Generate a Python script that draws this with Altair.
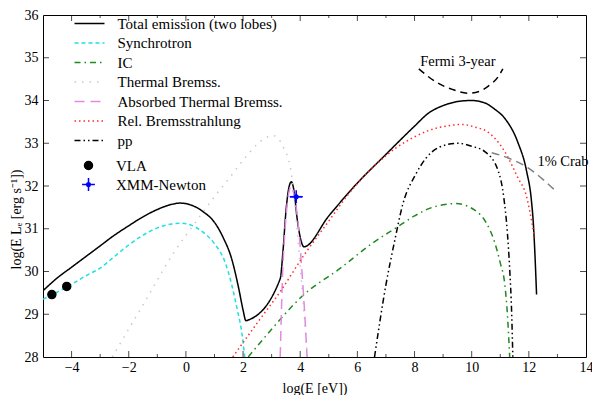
import altair as alt
import pandas as pd

SERIF = "Liberation Serif"

# ---------------- data ----------------
series_names = ["Total emission (two lobes)", "Synchrotron", "IC", "Thermal Bremss.",
                "Absorbed Thermal Bremss.", "Rel. Bremsstrahlung", "pp"]
series_colors = ["#000000", "#1fe0e0", "#1f8a1f", "#c8c8c8", "#e08ae0", "#ff2a2a", "#000000"]
series_dashes = [[1, 0], [4, 3], [6, 4, 1.5, 4], [1.5, 6], [10, 6], [1.5, 3],
                 [6, 3, 1.5, 3, 1.5, 3]]

total_x = [-5.0, -4.5, -4.0, -3.5, -3.0, -2.5, -2.0, -1.5, -1.0, -0.5, -0.2, 0.2, 0.6, 1.0,
           1.3, 1.6, 1.85, 2.0, 2.1, 2.2, 3.3, 3.4, 3.5, 3.6, 3.69, 3.78, 3.9, 4.0, 4.13,
           5.0, 6.0, 7.0, 7.6, 8.0, 8.5, 9.0, 9.67, 10.0, 10.47, 10.8, 11.16, 11.61,
           11.92, 12.09, 12.16, 12.22, 12.27]
total_y = [29.55, 29.85, 30.1, 30.35, 30.6, 30.85, 31.07, 31.28, 31.45, 31.57, 31.6, 31.55,
           31.4, 31.15, 30.8, 30.3, 29.6, 29.1, 28.85, 28.87, 29.83, 30.5, 31.4, 31.95, 32.1,
           31.9, 31.2, 30.8, 30.58, 31.3, 32.07, 32.74, 33.14, 33.4, 33.71, 33.88, 33.99,
           34.0, 33.94, 33.8, 33.58, 33.03, 32.35, 31.66, 31.1, 30.3, 29.46]

sync_x = [-5.0, -4.5, -4.0, -3.5, -3.0, -2.5, -2.0, -1.5, -1.0, -0.5, -0.2, 0.2, 0.6, 1.0,
          1.37, 1.6, 1.8, 1.95, 2.06]
sync_y = [29.35, 29.52, 29.7, 29.9, 30.08, 30.35, 30.62, 30.85, 31.02, 31.11, 31.13, 31.08,
          30.92, 30.65, 30.22, 29.7, 29.1, 28.6, 28.0]

ic_x = [2.18, 3.0, 3.65, 4.0, 5.45, 6.5, 7.35, 8.0, 8.5, 9.0, 9.43, 10.12, 10.5, 10.81,
        11.0, 11.16, 11.25, 11.33]
ic_y = [28.0, 28.65, 29.14, 29.38, 30.1, 30.65, 31.02, 31.3, 31.47, 31.56, 31.59, 31.43,
        31.15, 30.67, 30.2, 29.69, 29.0, 28.0]

therm_x = [-2.58, -1.5, -0.5, 0.5, 1.0, 1.5, 2.0, 2.5, 2.8, 3.05, 3.3, 3.45, 3.6, 3.72,
           3.85, 4.0, 4.15, 4.25]
therm_y = [28.0, 29.22, 30.36, 31.3, 31.75, 32.17, 32.6, 32.98, 33.13, 33.18, 33.05, 32.85,
           32.6, 32.16, 31.3, 30.1, 28.9, 28.0]

abs_x = [3.3, 3.34, 3.38, 3.45, 3.55, 3.62, 3.69, 3.78, 3.9, 3.96, 4.05, 4.15, 4.24]
abs_y = [28.0, 29.0, 29.9, 30.8, 31.6, 31.9, 32.0, 31.8, 31.3, 30.9, 30.1, 29.1, 28.0]

rel_x = [1.64, 2.5, 3.3, 4.13, 5.0, 5.62, 6.2, 6.76, 7.35, 8.0, 8.5, 9.1, 9.67, 10.1,
         10.57, 11.16, 11.61, 11.92, 12.05, 12.2]
rel_y = [28.0, 28.8, 29.53, 30.38, 31.18, 31.75, 32.2, 32.57, 32.89, 33.15, 33.3, 33.4,
         33.44, 33.38, 33.26, 32.8, 32.2, 31.75, 31.35, 30.8]

pp_x = [6.6, 7.0, 7.3, 7.6, 8.04, 8.4, 8.84, 9.5, 10.0, 10.47, 10.93, 11.12, 11.25, 11.33,
        11.4, 11.44]
pp_y = [28.0, 29.69, 30.7, 31.6, 32.27, 32.65, 32.9, 33.0, 32.93, 32.8, 32.35, 31.75, 30.9,
        30.06, 29.0, 28.0]

fermi_x = [8.15, 8.5, 8.84, 9.32, 9.88, 10.3, 10.57, 10.93, 11.09]
fermi_y = [34.74, 34.55, 34.4, 34.26, 34.17, 34.22, 34.33, 34.56, 34.74]

crab_x = [10.7, 11.3, 11.96, 12.5, 12.96]
crab_y = [32.78, 32.65, 32.43, 32.15, 31.87]

obs_names = ["VLA", "XMM-Newton"]
vla_x = [-4.69, -4.17]
vla_y = [29.46, 29.65]
xmm_x = [3.86]
xmm_y = [31.75]
xmm_xerr = [0.22]
xmm_yerr = [0.07]

annot_text = ["Fermi 3-year", "1% Crab"]
annot_x = [8.2, 12.3]
annot_y = [34.9, 32.55]

x_labels = [-4, -2, 0, 2, 4, 6, 8, 10, 12, 14]
y_labels = [28, 29, 30, 31, 32, 33, 34, 35, 36]
x_ticks = list(range(-4, 14))
y_ticks = list(range(29, 36))

# ---------------- tables ----------------
curve_sets = [(total_x, total_y), (sync_x, sync_y), (ic_x, ic_y), (therm_x, therm_y),
              (abs_x, abs_y), (rel_x, rel_y), (pp_x, pp_y)]
rows = []
for name, (xs, ys) in zip(series_names, curve_sets):
    for i, (a, b) in enumerate(zip(xs, ys)):
        rows.append({"series": name, "x": a, "y": b, "i": i})
curves = pd.DataFrame(rows)

fermi = pd.DataFrame({"x": fermi_x, "y": fermi_y, "i": range(len(fermi_x))})
crab = pd.DataFrame({"x": crab_x, "y": crab_y, "i": range(len(crab_x))})
obs = pd.DataFrame({
    "obs": ["VLA"] * len(vla_x) + ["XMM-Newton"] * len(xmm_x),
    "x": vla_x + xmm_x,
    "y": vla_y + xmm_y,
})
xmm = pd.DataFrame({
    "x": xmm_x, "y": xmm_y,
    "xlo": [a - e for a, e in zip(xmm_x, xmm_xerr)],
    "xhi": [a + e for a, e in zip(xmm_x, xmm_xerr)],
    "ylo": [a - e for a, e in zip(xmm_y, xmm_yerr)],
    "yhi": [a + e for a, e in zip(xmm_y, xmm_yerr)],
})
annot = pd.DataFrame({"text": annot_text, "x": annot_x, "y": annot_y})
xt = pd.DataFrame({"v": x_ticks, "major": [v % 2 == 0 for v in x_ticks]})
yt = pd.DataFrame({"v": y_ticks})

# ---------------- layout ----------------
W, H = 543, 342
xscale = alt.Scale(domain=[-5, 14], nice=False, zero=False)
yscale = alt.Scale(domain=[28, 36], nice=False, zero=False)
XTITLE = "log(E [eV])"
YTITLE = "log(E L\u2091 [erg s\u207b\u00b9])"

xaxis = alt.Axis(values=x_labels, grid=False, ticks=False, tickSize=0, domain=False,
                 labelPadding=3, labelFlush=False, titlePadding=7)
yaxis = alt.Axis(values=y_labels, grid=False, ticks=False, tickSize=0, domain=False,
                 labelPadding=5, labelFlush=False, titlePadding=1, titleY=204)


def X(field="x"):
    return alt.X(f"{field}:Q", scale=xscale, axis=xaxis, title=XTITLE)


def Y(field="y"):
    return alt.Y(f"{field}:Q", scale=yscale, axis=yaxis, title=YTITLE)


line_path = "M-3,0H3"
leg1 = alt.Legend(orient="none", legendX=39, legendY=1, symbolType=line_path,
                  symbolSize=100, symbolStrokeWidth=1.5, labelOffset=20.5, rowPadding=3.5,
                  padding=0, title=None, labelLimit=400)

xmm_path = ("M-1.6,0H1.6M0,-1.6V1.6M-0.45,0A0.45,0.45 0 1,0 0.45,0"
            "A0.45,0.45 0 1,0 -0.45,0Z")
leg2 = alt.Legend(orient="none", legendX=38, legendY=143, symbolSize=64,
                  symbolStrokeWidth=1.5, labelOffset=20, rowPadding=1, padding=0,
                  title=None, labelLimit=400)

lines = alt.Chart(curves).mark_line(strokeWidth=1.5, interpolate="monotone", clip=True).encode(
    x=X(), y=Y(),
    color=alt.Color("series:N", scale=alt.Scale(domain=series_names, range=series_colors),
                    legend=leg1),
    strokeDash=alt.StrokeDash("series:N",
                              scale=alt.Scale(domain=series_names, range=series_dashes),
                              legend=leg1),
    order="i:Q",
)

fermi_line = alt.Chart(fermi).mark_line(strokeWidth=1.5, color="black", strokeDash=[7, 5],
                                        interpolate="monotone").encode(
    x=X(), y=Y(), order="i:Q")
crab_line = alt.Chart(crab).mark_line(strokeWidth=1.5, color="#808080", strokeDash=[8, 5],
                                      interpolate="monotone").encode(
    x=X(), y=Y(), order="i:Q")

labels = alt.Chart(annot).mark_text(align="left", baseline="middle", font=SERIF,
                                    fontSize=14.5, color="black").encode(
    x=X(), y=Y(), text="text:N")

err_x = alt.Chart(xmm).mark_rule(color="blue", strokeWidth=1.5).encode(
    x=X("xlo"), x2="xhi:Q", y=Y())
err_y = alt.Chart(xmm).mark_rule(color="blue", strokeWidth=1.5).encode(
    x=X(), y=Y("ylo"), y2="yhi:Q")

pts = alt.Chart(obs).mark_point(filled=True, size=64, strokeWidth=1.5, opacity=1).encode(
    x=X(), y=Y(),
    fill=alt.Fill("obs:N", scale=alt.Scale(domain=obs_names, range=["black", "blue"]),
                  legend=leg2),
    stroke=alt.Stroke("obs:N", scale=alt.Scale(domain=obs_names, range=["black", "blue"]),
                      legend=leg2),
    shape=alt.Shape("obs:N", scale=alt.Scale(domain=obs_names, range=["circle", xmm_path]),
                    legend=leg2),
)


# inward ticks on all four sides
def xticks(major, top):
    L = 6 if major else 3
    ypos = L / 2 if top else H - L / 2
    return alt.Chart(xt).transform_filter(
        alt.datum.major if major else ~alt.datum.major
    ).mark_tick(orient="vertical", size=L, thickness=1, color="black").encode(
        x=X("v"), y=alt.value(ypos))


def yticks(right):
    L = 6
    xpos = W - L / 2 if right else L / 2
    return alt.Chart(yt).mark_tick(orient="horizontal", size=L, thickness=1,
                                   color="black").encode(
        y=Y("v"), x=alt.value(xpos))


chart = alt.layer(
    lines, fermi_line, crab_line, labels, err_x, err_y, pts,
    xticks(True, False), xticks(False, False), xticks(True, True), xticks(False, True),
    yticks(False), yticks(True),
).properties(
    width=W, height=H,
    autosize=alt.AutoSizeParams(type="none"),
    padding={"left": 35, "top": 7, "right": 6, "bottom": 38},
).configure(
    background="white", font=SERIF
).configure_view(
    stroke="black", strokeWidth=1
).configure_axis(
    labelFont=SERIF, labelFontSize=14, labelColor="black", labelFontWeight="normal",
    titleFont=SERIF, titleFontSize=14, titleFontWeight="normal", titleColor="black",
).configure_legend(
    labelFont=SERIF, labelFontSize=15, labelColor="black", labelFontWeight="normal",
).configure_text(font=SERIF)

chart.save("out.html", embed_options={"renderer": "svg", "actions": False})
